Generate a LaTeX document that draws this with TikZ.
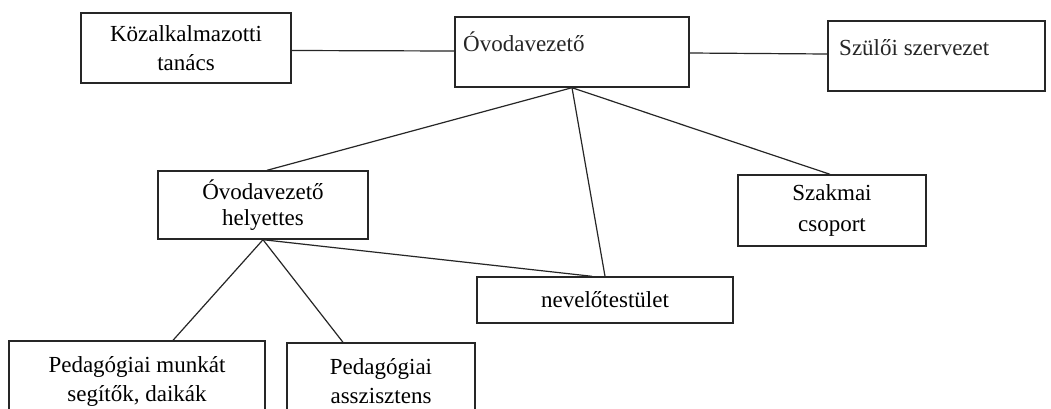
\documentclass[tikz,border=0pt]{standalone}
\usepackage{fontspec}
\setmainfont{Liberation Serif}
\usetikzlibrary{calc}
\begin{document}
\begin{tikzpicture}[x=1pt,y=-1pt,
  box/.style={draw=black!85, line width=1.4pt, rectangle, inner sep=0pt, align=center,
    font=\fontsize{23}{29}\selectfont},
  lbl/.style={inner sep=0pt, font=\fontsize{23}{29}\selectfont, text=black!85},
  conn/.style={draw=black!85, line width=1.2pt}]
\useasboundingbox (0,0) rectangle (1051,408);
\clip (0,0) rectangle (1051,408);
\fill[white] (0,0) rectangle (1051,408);
% boxes
\node[box, minimum width=210pt, minimum height=70pt] (kozalk) at (186,48) {Közalkalmazotti\\tanács};
\node[box, minimum width=234pt, minimum height=70pt] (ovoda) at (572,52) {};
\node[lbl, anchor=west] (ovodalbl) at (463,42) {Óvodavezető};
\node[box, minimum width=217pt, minimum height=70pt] (szuloi) at (1045.5,56) [anchor=east] {};
\node[lbl, anchor=west] (szuloilbl) at (839,48) {Szülői szervezet};
\node[box, minimum width=210pt, minimum height=68pt] (helyettes) at (263,205) {Óvodavezető\\[-3pt]helyettes};
\node[box, minimum width=188pt, minimum height=71pt] (szakmai) at (832,210.5) {Szakmai\\[2pt]csoport};
\node[box, minimum width=256pt, minimum height=46pt] (nevelo) at (605,300) {nevelőtestület};
\node[box, minimum width=256pt, minimum height=80pt] (ped1) at (137,381) {Pedagógiai munkát\\segítők, daikák};
\node[box, minimum width=188pt, minimum height=76pt] (ped2) at (381,381) {Pedagógiai\\asszisztens};
% connectors
\draw[conn] ([yshift=-2.5pt]kozalk.east) -- ([yshift=1pt]ovoda.west);
\draw[conn] ([yshift=-1pt]ovoda.east) -- ([yshift=2pt]szuloi.west);
\draw[conn] (ovoda.south) -- ([xshift=4pt]helyettes.north);
\draw[conn] (ovoda.south) -- (nevelo.north);
\draw[conn] (ovoda.south) -- ([xshift=-2pt]szakmai.north);
\draw[conn] (helyettes.south) -- ([xshift=-13pt]nevelo.north);
\draw[conn] (helyettes.south) -- ([xshift=36pt]ped1.north);
\draw[conn] (helyettes.south) -- ([xshift=-38pt]ped2.north);
\end{tikzpicture}
\end{document}
